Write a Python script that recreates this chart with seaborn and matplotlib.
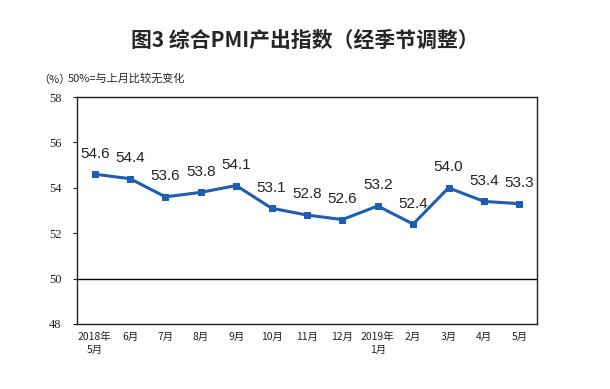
import matplotlib
matplotlib.use("Agg")
import matplotlib.pyplot as plt
import seaborn as sns
import pandas as pd

months = ["2018年\n5月", "6月", "7月", "8月", "9月", "10月", "11月", "12月",
          "2019年\n1月", "2月", "3月", "4月", "5月"]
pmi = [54.6, 54.4, 53.6, 53.8, 54.1, 53.1, 52.8, 52.6, 53.2, 52.4, 54.0, 53.4, 53.3]
yticks = [48, 50, 52, 54, 56, 58]

sns.set_theme(style="white")
plt.rcParams["font.family"] = ["Noto Sans CJK SC", "DejaVu Sans"]

df = pd.DataFrame({"x": range(len(months)), "pmi": pmi})

fig = plt.figure(figsize=(6.1, 3.89), dpi=100)
ax = fig.add_axes([77 / 610, 1 - 324 / 389, 460 / 610, 227 / 389])

color = "#1F5DB0"
sns.lineplot(data=df, x="x", y="pmi", ax=ax, color=color, linewidth=2.2,
             marker="s", markersize=4.5, markeredgecolor=color)
ax.axhline(50, color="black", linewidth=1)

for i, v in enumerate(pmi):
    ax.text(i, v + 0.6, f"{v:.1f}", ha="center", va="bottom", fontsize=11,
            family=["Liberation Sans", "DejaVu Sans"], color="#222222")

ax.set_xlim(-0.5, len(months) - 0.5)
ax.set_ylim(48, 58)
ax.set_yticks(yticks)
ax.set_yticklabels([str(t) for t in yticks], fontsize=9,
                   family=["Liberation Serif", "DejaVu Serif"])
ax.set_xticks(range(len(months)))
ax.set_xticklabels(months, fontsize=7.5, linespacing=1.3)
ax.tick_params(axis="y", length=3, width=0.8, left=True, pad=8, colors="#222222")
ax.tick_params(axis="x", length=0, pad=6, colors="#222222")
ax.set_xlabel("")
ax.set_ylabel("")
for s in ax.spines.values():
    s.set_color("#222222")
    s.set_linewidth(1)

fig.text(0.5, 1 - 40 / 389, "图3 综合PMI产出指数（经季节调整）", ha="center", va="center",
         fontsize=15, fontweight="bold")
fig.text(38 / 610, 1 - 80 / 389, "（%）", ha="left", va="center", fontsize=8)
fig.text(68 / 610, 1 - 78 / 389, "50%=与上月比较无变化", ha="left", va="center", fontsize=8)

fig.savefig("out.png", dpi=100)
